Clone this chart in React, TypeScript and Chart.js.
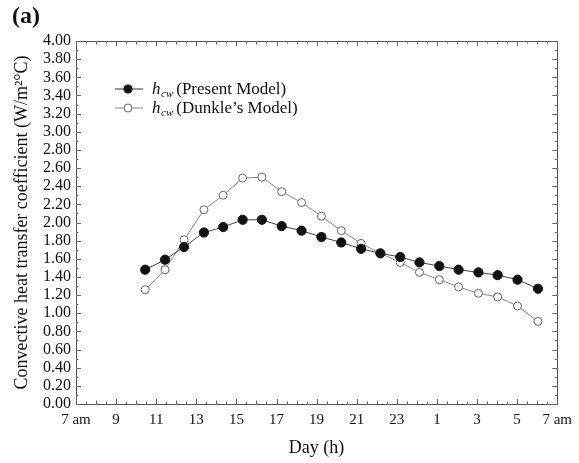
import React, { useEffect, useRef } from "react";
import { Chart, registerables } from "chart.js";

Chart.register(...registerables);

// Hours elapsed since 7 am (x positions of the measurement points)
const hoursSince7am = [
  3.45, 4.44, 5.39, 6.38, 7.34, 8.31, 9.27, 10.26, 11.25, 12.24, 13.23,
  14.22, 15.18, 16.17, 17.13, 18.12, 19.08, 20.07, 21.03, 22.02, 23.04,
];

// h_cw (Present Model), W/m²°C
const presentModel = [
  1.48, 1.59, 1.73, 1.89, 1.95, 2.03, 2.03, 1.96, 1.91, 1.84, 1.78,
  1.71, 1.66, 1.62, 1.56, 1.52, 1.48, 1.45, 1.42, 1.37, 1.27,
];

// h_cw (Dunkle's Model), W/m²°C
const dunkleModel = [
  1.26, 1.48, 1.81, 2.14, 2.3, 2.49, 2.5, 2.34, 2.22, 2.07, 1.91,
  1.77, 1.66, 1.56, 1.45, 1.37, 1.29, 1.22, 1.18, 1.08, 0.91,
];

// x tick labels every 2 hours, from 7 am to 7 am next day
const xTickLabels = ["7 am", "9", "11", "13", "15", "17", "19", "21", "23", "1", "3", "5", "7 am"];

const yMin = 0;
const yMax = 4;
const yStep = 0.2;

const FONT = '"Liberation Serif", "Times New Roman", serif';

const decorPlugin = {
  id: "decor",
  afterDraw(chart: any) {
    const ctx = chart.ctx;
    const { left, right, top, bottom } = chart.chartArea;
    const xs = chart.scales.x;
    const ys = chart.scales.y;
    ctx.save();
    // frame
    ctx.strokeStyle = "#555";
    ctx.lineWidth = 1;
    ctx.strokeRect(Math.round(left) + 0.5, Math.round(top) + 0.5, Math.round(right - left), Math.round(bottom - top));
    // x ticks (inward), every half hour
    ctx.strokeStyle = "#666";
    ctx.beginPath();
    for (let i = 0; i <= 48; i++) {
      const v = i / 2;
      const px = Math.round(xs.getPixelForValue(v)) + 0.5;
      const len = i % 4 === 0 ? 5 : i % 2 === 0 ? 3.5 : 2.5;
      ctx.moveTo(px, bottom);
      ctx.lineTo(px, bottom - len);
      ctx.moveTo(px, top);
      ctx.lineTo(px, top + len);
    }
    // y ticks (inward), every 0.1
    for (let i = 0; i <= 40; i++) {
      const v = i / 10;
      const py = Math.round(ys.getPixelForValue(v)) + 0.5;
      const len = i % 2 === 0 ? 5 : 2.5;
      ctx.moveTo(left, py);
      ctx.lineTo(left + len, py);
      ctx.moveTo(right, py);
      ctx.lineTo(right - len, py);
    }
    ctx.stroke();

    // (a)
    ctx.fillStyle = "#111";
    ctx.font = `bold 24px ${FONT}`;
    ctx.textAlign = "left";
    ctx.textBaseline = "alphabetic";
    ctx.fillText("(a)", 12, 23);

    // axis titles
    ctx.font = `18px ${FONT}`;
    ctx.textAlign = "center";
    ctx.fillText("Day (h)", (left + right) / 2, 453);
    ctx.save();
    ctx.translate(27, (top + bottom) / 2);
    ctx.rotate(-Math.PI / 2);
    ctx.fillText("Convective heat transfer coefficient (W/m²°C)", 0, 0);
    ctx.restore();

    // legend
    const drawEntry = (y: number, label: string, filled: boolean) => {
      ctx.strokeStyle = filled ? "#333" : "#888";
      ctx.lineWidth = 1;
      ctx.beginPath();
      ctx.moveTo(115, y);
      ctx.lineTo(143, y);
      ctx.stroke();
      ctx.beginPath();
      ctx.arc(128, y, filled ? 4.6 : 4, 0, Math.PI * 2);
      if (filled) {
        ctx.fillStyle = "#111";
        ctx.fill();
      } else {
        ctx.fillStyle = "#fff";
        ctx.fill();
        ctx.strokeStyle = "#666";
        ctx.stroke();
      }
      ctx.fillStyle = "#111";
      ctx.textAlign = "left";
      let x = 152;
      ctx.font = `italic 17px ${FONT}`;
      ctx.fillText("h", x, y + 5);
      x += ctx.measureText("h").width + 0.5;
      ctx.font = `italic 11px ${FONT}`;
      ctx.fillText("cw", x, y + 8);
      x += ctx.measureText("cw").width + 3;
      ctx.font = `17px ${FONT}`;
      ctx.fillText(label, x, y + 5);
    };
    drawEntry(89, "(Present Model)", true);
    drawEntry(108, "(Dunkle\u2019s Model)", false);
    ctx.restore();
  },
};

export default function App() {
  const ref = useRef<HTMLCanvasElement | null>(null);
  useEffect(() => {
    if (!ref.current) return;
    Chart.defaults.font.family = FONT;
    const chart = new Chart(ref.current, {
      type: "line",
      data: {
        datasets: [
          {
            label: "h_cw (Present Model)",
            data: hoursSince7am.map((x, i) => ({ x, y: presentModel[i] })),
            borderColor: "#444",
            borderWidth: 1,
            backgroundColor: "#111",
            pointBackgroundColor: "#111",
            pointBorderColor: "#111",
            pointRadius: 4.6,
            pointBorderWidth: 1,
            tension: 0,
          },
          {
            label: "h_cw (Dunkle's Model)",
            data: hoursSince7am.map((x, i) => ({ x, y: dunkleModel[i] })),
            borderColor: "#888",
            borderWidth: 1,
            backgroundColor: "#fff",
            pointBackgroundColor: "#fff",
            pointBorderColor: "#666",
            pointRadius: 4,
            pointBorderWidth: 1,
            tension: 0,
          },
        ],
      },
      options: {
        responsive: false,
        animation: false,
        layout: { padding: { top: 41, right: 18, left: 0, bottom: 0 } },
        plugins: { legend: { display: false }, tooltip: { enabled: false } },
        scales: {
          x: {
            type: "linear",
            min: 0,
            max: 24,
            grid: { display: false, drawTicks: false },
            border: { display: false },
            ticks: {
              stepSize: 2,
              autoSkip: false,
              maxRotation: 0,
              padding: 7,
              color: "#111",
              font: { size: 15, family: FONT },
              callback: (v: any) => xTickLabels[Math.round(Number(v) / 2)] ?? "",
            },
            afterFit: (s: any) => {
              s.height = 59;
            },
          },
          y: {
            min: yMin,
            max: yMax,
            grid: { display: false, drawTicks: false },
            border: { display: false },
            ticks: {
              stepSize: yStep,
              autoSkip: false,
              padding: 5,
              color: "#111",
              font: { size: 16, family: FONT },
              callback: (v: any) => Number(v).toFixed(2),
            },
            afterFit: (s: any) => {
              s.width = 76;
            },
          },
        },
      },
      plugins: [decorPlugin],
    });
    return () => chart.destroy();
  }, []);
  return (
    <div style={{ position: "absolute", left: 0, top: 0, width: 579, height: 463, background: "#fff" }}>
      <canvas ref={ref} width={579} height={463} />
    </div>
  );
}
